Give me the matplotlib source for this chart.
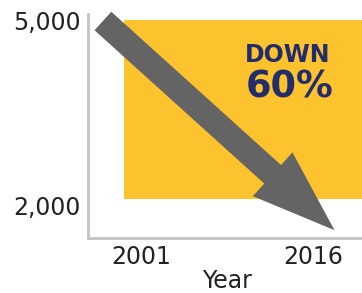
import matplotlib
matplotlib.use("Agg")
import matplotlib.pyplot as plt
from matplotlib.patches import Rectangle

# data
years = [2001, 2016]
y_ticks = [2000, 5000]
y_tick_labels = ["2,000", "5,000"]
band_x = [1999.5, 2021]          # shaded band (years)
band_y = [2100, 5016]            # shaded band (values)
arrow_start = (1997.7, 5000)
arrow_end = (2017.9, 1590)
headline = ["DOWN", "60%"]

navy = "#232d6b"
yellow = "#fdc32e"
grey = "#646464"

fig = plt.figure(figsize=(3.62, 2.93), dpi=100)
ax = fig.add_axes([88 / 362, 55 / 293, 274 / 362, 224 / 293])

ax.set_xlim(1996.4, 2020.3)
ax.set_ylim(1462, 5114)

ax.add_patch(Rectangle((band_x[0], band_y[0]), band_x[1] - band_x[0],
                       band_y[1] - band_y[0], color=yellow, lw=0, zorder=1))

ax.annotate("", xy=arrow_end, xytext=arrow_start,
            arrowprops=dict(arrowstyle="simple,head_width=42.5,head_length=60,tail_width=18",
                            mutation_scale=1, color=grey, lw=0,
                            shrinkA=0, shrinkB=0),
            zorder=3, annotation_clip=False)

ax.text(2013.8, 4445, headline[0], color=navy, fontsize=17, fontweight="bold",
        ha="center", va="center", zorder=4)
ax.text(2014.0, 3923, headline[1], color=navy, fontsize=26.5, fontweight="bold",
        ha="center", va="center", zorder=4)

ax.set_xticks(years)
ax.set_xticklabels([str(y) for y in years])
ax.set_yticks(y_ticks)
ax.set_yticklabels(y_tick_labels)
ax.tick_params(length=0, labelsize=17, colors="#222222", pad=5)
ax.set_xlabel("Year", fontsize=17, color="#222222")
ax.xaxis.set_label_coords(0.507, -0.138)

for s in ["top", "right"]:
    ax.spines[s].set_visible(False)
for s in ["left", "bottom"]:
    ax.spines[s].set_color("#c3c3c3")
    ax.spines[s].set_linewidth(2)

fig.savefig("out.png", dpi=100)
